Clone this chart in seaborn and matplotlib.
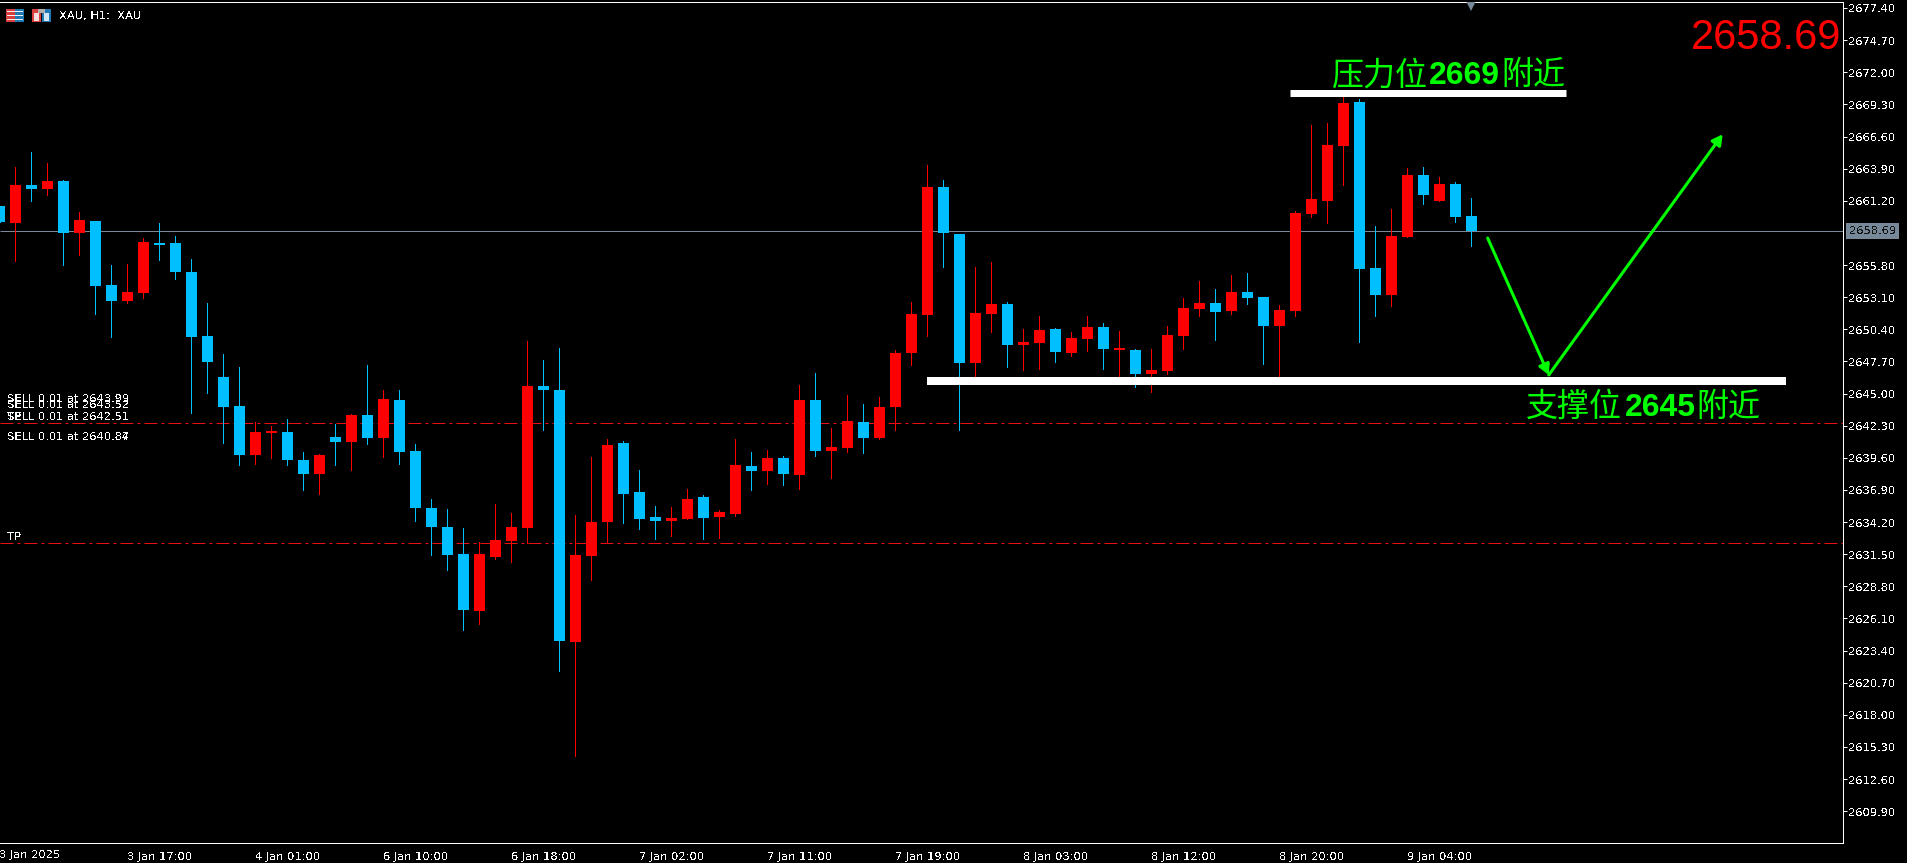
import matplotlib
matplotlib.use("Agg")
import matplotlib.pyplot as plt
from matplotlib.patches import Rectangle
import pandas as pd
import seaborn as sns

# XAU H1 candles
open_p = [2660.76, 2659.33, 2662.53, 2662.19, 2662.86, 2658.49, 2659.50, 2654.12, 2652.78, 2653.45,
          2657.65, 2657.65, 2655.22, 2649.84, 2646.39, 2643.96, 2639.84, 2641.69, 2641.77, 2639.42,
          2638.24, 2641.35, 2640.93, 2643.20, 2641.27, 2644.46, 2640.18, 2635.39, 2633.79, 2631.52,
          2626.73, 2631.26, 2632.61, 2633.70, 2645.63, 2645.30, 2624.12, 2631.35, 2634.21, 2640.84,
          2636.73, 2634.63, 2634.29, 2634.46, 2636.31, 2634.63, 2634.88, 2638.91, 2638.49, 2639.58,
          2638.15, 2644.46, 2640.17, 2640.42, 2642.61, 2641.26, 2643.87, 2648.41, 2651.60, 2662.36,
          2658.41, 2647.57, 2651.69, 2652.53, 2649.08, 2649.25, 2650.43, 2648.41, 2649.59, 2650.60,
          2648.66, 2648.66, 2646.65, 2646.90, 2649.84, 2652.11, 2652.61, 2651.94, 2653.54, 2653.12,
          2650.68, 2651.94, 2660.09, 2661.18, 2665.80, 2669.50, 2655.55, 2653.28, 2658.16, 2663.37,
          2661.18, 2662.61, 2659.92]
high_p = [2660.76, 2664.04, 2665.30, 2664.38, 2662.95, 2660.26, 2659.50, 2655.81, 2655.89, 2658.07,
          2659.33, 2658.24, 2656.31, 2652.61, 2648.33, 2647.23, 2642.61, 2642.28, 2642.86, 2640.09,
          2639.92, 2642.44, 2643.28, 2647.40, 2645.30, 2645.30, 2640.76, 2636.14, 2635.30, 2633.70,
          2632.52, 2635.72, 2634.96, 2649.42, 2647.82, 2648.83, 2634.79, 2639.67, 2641.18, 2641.01,
          2638.57, 2635.55, 2635.47, 2636.98, 2636.47, 2635.21, 2641.18, 2640.09, 2640.26, 2639.75,
          2645.72, 2646.73, 2642.10, 2644.88, 2644.12, 2644.71, 2648.66, 2652.70, 2664.21, 2662.95,
          2658.41, 2655.64, 2656.06, 2652.70, 2650.43, 2651.52, 2650.51, 2650.18, 2651.52, 2650.93,
          2650.26, 2648.75, 2648.75, 2650.68, 2653.03, 2654.46, 2653.79, 2654.97, 2655.13, 2653.12,
          2652.44, 2660.34, 2667.57, 2667.74, 2670.09, 2669.75, 2659.08, 2660.51, 2663.95, 2664.04,
          2663.20, 2662.78, 2661.43]
low_p = [2659.42, 2656.14, 2661.18, 2661.69, 2655.81, 2656.65, 2651.69, 2649.76, 2652.61, 2653.03,
         2656.23, 2654.63, 2643.37, 2645.05, 2640.85, 2639.00, 2639.08, 2639.59, 2639.00, 2636.90,
         2636.56, 2639.00, 2638.58, 2640.76, 2639.67, 2639.08, 2634.29, 2631.44, 2630.18, 2625.13,
         2625.63, 2631.10, 2630.84, 2632.41, 2641.94, 2621.68, 2614.54, 2629.33, 2632.41, 2634.12,
         2633.62, 2632.78, 2633.03, 2634.46, 2632.78, 2632.86, 2634.71, 2636.89, 2637.40, 2637.31,
         2636.98, 2639.75, 2637.90, 2640.09, 2640.00, 2641.18, 2641.94, 2647.40, 2649.84, 2655.64,
         2641.94, 2646.14, 2650.18, 2647.23, 2646.98, 2647.07, 2647.65, 2648.16, 2648.58, 2647.07,
         2646.14, 2645.55, 2645.13, 2646.65, 2648.75, 2651.52, 2649.50, 2651.69, 2652.53, 2647.49,
         2646.14, 2651.52, 2659.84, 2659.33, 2662.53, 2649.33, 2651.52, 2652.36, 2658.16, 2660.93,
         2661.18, 2659.42, 2657.40]
close_p = [2659.42, 2662.53, 2662.19, 2662.86, 2658.49, 2659.59, 2654.04, 2652.78, 2653.54, 2657.74,
           2657.49, 2655.22, 2649.76, 2647.65, 2643.87, 2639.84, 2641.77, 2641.86, 2639.42, 2638.24,
           2639.84, 2640.93, 2643.20, 2641.27, 2644.54, 2640.09, 2635.39, 2633.79, 2631.44, 2626.81,
           2631.52, 2632.69, 2633.79, 2645.63, 2645.30, 2624.21, 2631.43, 2634.21, 2640.68, 2636.56,
           2634.46, 2634.29, 2634.54, 2636.14, 2634.54, 2635.05, 2639.00, 2638.49, 2639.58, 2638.24,
           2644.46, 2640.17, 2640.51, 2642.69, 2641.26, 2643.87, 2648.41, 2651.69, 2662.36, 2658.49,
           2647.57, 2651.77, 2652.53, 2649.08, 2649.34, 2650.34, 2648.49, 2649.67, 2650.60, 2648.75,
           2648.83, 2646.65, 2646.98, 2649.92, 2652.19, 2652.61, 2651.86, 2653.54, 2653.03, 2650.68,
           2652.02, 2660.17, 2661.35, 2665.89, 2669.42, 2655.47, 2653.28, 2658.24, 2663.37, 2661.69,
           2662.61, 2659.84, 2658.69]

price_ticks = [2677.40, 2674.70, 2672.00, 2669.30, 2666.60, 2663.90, 2661.20, 2655.80, 2653.10,
               2650.40, 2647.70, 2645.00, 2642.30, 2639.60, 2636.90, 2634.20, 2631.50, 2628.80,
               2626.10, 2623.40, 2620.70, 2618.00, 2615.30, 2612.60, 2609.90]
time_ticks = [8, 16, 24, 32, 40, 48, 56, 64, 72, 80, 88]
time_labels = ["3 Jan 17:00", "4 Jan 01:00", "6 Jan 10:00", "6 Jan 18:00", "7 Jan 02:00", "7 Jan 11:00",
               "7 Jan 19:00", "8 Jan 03:00", "8 Jan 12:00", "8 Jan 20:00", "9 Jan 04:00"]

last_price = 2658.69
tp_levels = [2642.50, 2632.42]
order_labels = [("SELL 0.01 at 2643.99", 2643.99), ("SELL 0.01 at 2643.52", 2643.52),
                ("SELL 0.01 at 2642.51", 2642.51), ("TP", 2642.51),
                ("SELL 0.01 at 2640.87", 2640.87), ("SELL 0.01 at 2640.84", 2640.84),
                ("TP", 2632.42)]

# drawn-in levels and forecast path
resist_level, resist_from, resist_to = 2670.22, 80.66, 97.91
support_level, support_from, support_to = 2646.06, 57.97, 111.66
path_x = [93.01, 96.83, 107.70]
path_y = [2658.07, 2646.56, 2666.79]

CANDLE_UP = "#ff0000"
CANDLE_DOWN = "#00bfff"
GREEN = "#00ff00"
SLATE = "#778899"

sns.set_theme(style="dark", rc={
    "figure.facecolor": "black",
    "axes.facecolor": "black",
    "axes.grid": False,
    "text.antialiased": False,
    "text.hinting": "native",
})
plt.rcParams["font.family"] = ["DejaVu Sans"]

df = pd.DataFrame({"idx": range(len(open_p)), "open": open_p, "high": high_p, "low": low_p, "close": close_p})
df["up"] = df["close"] >= df["open"]
df["bottom"] = df[["open", "close"]].min(axis=1)
df["height"] = (df["close"] - df["open"]).abs()

W, H = 1908, 863
fig = plt.figure(figsize=(W / 100, H / 100), dpi=100)
ax = fig.add_axes([0, 20 / H, 1843 / W, 841 / H])

# levels sit behind the candles
ax.hlines(tp_levels, 0, 116, color="#e81010", lw=0.72, linestyle=(0, (13, 4, 3, 4)), zorder=1)
ax.hlines(last_price, 0, 116, color=SLATE, lw=0.72, zorder=1)

for is_up, col in [(True, CANDLE_UP), (False, CANDLE_DOWN)]:
    part = df[df["up"] == is_up]
    ax.vlines(part["idx"], part["low"], part["high"], color=col, lw=0.72, antialiased=False, zorder=2)
    sns.barplot(data=part, x="idx", y="height", bottom=part["bottom"].values, native_scale=True,
                color=col, saturation=1, width=11 / 16, errorbar=None, linewidth=0,
                antialiased=False, zorder=3, ax=ax)

ax.hlines(resist_level, resist_from, resist_to, color="white", lw=5.04, capstyle="butt", zorder=4)
ax.hlines(support_level, support_from, support_to, color="white", lw=5.76, capstyle="butt", zorder=4)

for k in range(2):
    ax.annotate("", xy=(path_x[k + 1], path_y[k + 1]), xytext=(path_x[k], path_y[k]), zorder=5,
                arrowprops=dict(arrowstyle="-|>,head_length=0.55,head_width=0.3", color=GREEN, lw=2.2,
                                mutation_scale=11, shrinkA=0, shrinkB=0))

ax.set_xlim(0.03125, 115.22)
ax.set_ylim(2607.231, 2677.904)
ax.set_xlabel("")
ax.set_ylabel("")

ax.yaxis.tick_right()
ax.set_yticks(price_ticks)
ax.set_yticklabels([f"{p:.2f}" for p in price_ticks])
ax.set_xticks(time_ticks)
ax.set_xticklabels(time_labels, ha="left")
ax.tick_params(axis="both", colors="white", labelsize=8.2, length=2.9, width=0.72, pad=0.6)
ax.tick_params(axis="x", pad=2.6)
for side in ["top", "right", "bottom"]:
    ax.spines[side].set_color("white")
    ax.spines[side].set_linewidth(0.72)
ax.spines["left"].set_visible(False)

# first date label starts just left of the window
ax.text(-0.03, -0.0075, "3 Jan 2025", color="white", fontsize=8.2, ha="left", va="top",
        transform=ax.get_xaxis_transform(), clip_on=False)

for txt, price in order_labels:
    ax.text(0.47, price + 0.1, txt, color="white", fontsize=8.2, ha="left", va="bottom", zorder=6)

# last price box on the scale
ax.text(1 + 6 / 1843, last_price, f"{last_price:.2f}", color="#111111", fontsize=8.2, ha="left", va="center",
        transform=ax.get_yaxis_transform(), clip_on=False, zorder=7,
        bbox=dict(boxstyle="square,pad=0.22", facecolor=SLATE, edgecolor="none"))
ax.plot([91.97], [2677.55], marker="v", ms=7.5, color=SLATE, mew=0, ls="none", zorder=7)

ax.text(115.1, 2673.95, f"{last_price:.2f}", color="#ff0000", fontsize=30, family="Liberation Sans",
        ha="right", va="baseline", antialiased=True, zorder=7)

cjk = ["Noto Sans CJK SC", "DejaVu Sans"]
notes = [
    (83.19, 2671.00, "压力位", cjk, "normal"),
    (89.35, 2671.00, "2669", ["Liberation Sans"], "bold"),
    (93.90, 2671.00, "附近", cjk, "normal"),
    (95.43, 2643.10, "支撑位", cjk, "normal"),
    (101.56, 2643.10, "2645", ["Liberation Sans"], "bold"),
    (106.08, 2643.10, "附近", cjk, "normal"),
]
for x, y, txt, fam, wt in notes:
    ax.text(x, y, txt, color=GREEN, fontsize=23, family=fam, fontweight=wt, ha="left", va="baseline",
            antialiased=True, zorder=6)


def px_rect(x, y, w, h, col):
    fig.add_artist(Rectangle((x / W, 1 - (y + h) / H), w / W, h / H, transform=fig.transFigure,
                             facecolor=col, edgecolor="none"))


# window icons top left
px_rect(6, 9, 9, 13, "#d84040")
px_rect(15, 9, 9, 13, "#1f78b4")
for yy in [11, 15, 19]:
    px_rect(7, yy, 16, 1.5, "#f2f2f2")
px_rect(32, 9, 9, 13, "#d84040")
px_rect(34, 13, 5, 8, "#f6dede")
px_rect(42, 9, 9, 13, "#1f78b4")
px_rect(44, 13, 5, 8, "#cfe6f6")
px_rect(38, 9, 7, 4, "#b0b0b0")
fig.text(59 / W, 1 - 16 / H, "XAU, H1:  XAU", color="white", fontsize=8.2, ha="left", va="center")

fig.savefig("out.png", dpi=100, facecolor="black")
